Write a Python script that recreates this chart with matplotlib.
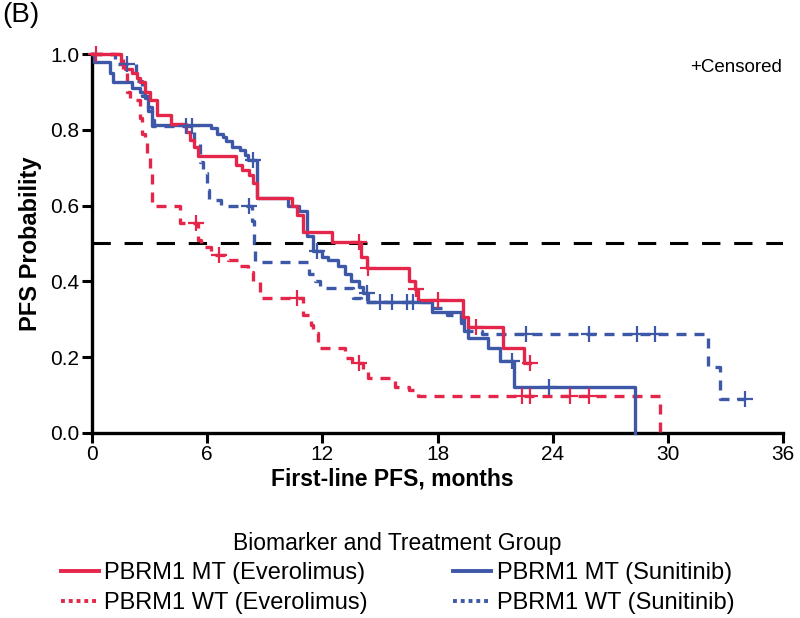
import numpy as np
import matplotlib
matplotlib.use("Agg")
import matplotlib.pyplot as plt
from matplotlib.lines import Line2D

plt.rcParams['font.family'] = ['Liberation Sans', 'DejaVu Sans']

RED = '#E5264B'
BLUE = '#3E58A8'

# ---------------- data (months, survival probability) ----------------
mt_eve_t = [0, 1.5, 1.7, 2.1, 2.35, 2.5, 2.75, 3.0, 3.4, 4.1, 4.9, 5.1, 5.3, 5.5,
            7.5, 7.8, 8.2, 8.4, 8.6, 10.4, 10.7, 11.0, 12.5, 14.0, 14.3, 16.5,
            16.8, 17.0, 19.3, 19.6, 21.4, 22.5]
mt_eve_s = [1.0, 0.975, 0.96, 0.95, 0.937, 0.926, 0.90, 0.88, 0.84, 0.815, 0.795,
            0.773, 0.755, 0.73, 0.707, 0.694, 0.68, 0.66, 0.62, 0.60, 0.575, 0.53,
            0.505, 0.465, 0.435, 0.40, 0.38, 0.35, 0.306, 0.28, 0.224, 0.185]
mt_eve_end = 22.8
mt_eve_cens = [0.2, 13.9, 14.4, 16.9, 18.0, 20.0, 22.8]

mt_sun_t = [0, 0.1, 0.95, 1.1, 2.1, 2.5, 2.75, 2.9, 3.1, 3.25, 6.2, 6.5, 6.8, 7.0,
            7.3, 7.7, 7.95, 8.1, 8.6, 10.2, 10.8, 11.2, 11.5, 12.0, 12.3, 12.8,
            13.2, 13.5, 13.9, 14.1, 14.4, 17.7, 19.2, 19.4, 19.6, 20.6, 21.25,
            22.0, 28.3]
mt_sun_s = [1.0, 0.98, 0.95, 0.926, 0.91, 0.90, 0.885, 0.86, 0.826, 0.813, 0.805,
            0.79, 0.78, 0.77, 0.755, 0.747, 0.733, 0.72, 0.62, 0.60, 0.585, 0.52,
            0.48, 0.465, 0.456, 0.44, 0.42, 0.40, 0.385, 0.37, 0.345, 0.32, 0.30,
            0.27, 0.25, 0.225, 0.19, 0.12, 0.0]
mt_sun_end = 28.3
mt_sun_cens = [8.4, 11.7, 14.3, 15.0, 16.7, 21.9, 23.8]

wt_eve_t = [0, 1.6, 1.8, 2.0, 2.5, 2.6, 2.75, 2.85, 3.0, 3.1, 3.15, 4.6, 5.5, 5.7,
            6.2, 7.1, 7.6, 8.1, 8.4, 8.75, 11.0, 11.4, 11.5, 11.75, 13.2, 13.55,
            14.1, 14.4, 15.8, 16.5, 17.0, 29.6]
wt_eve_s = [1.0, 0.95, 0.90, 0.88, 0.83, 0.79, 0.77, 0.74, 0.70, 0.67, 0.60, 0.555,
            0.51, 0.49, 0.47, 0.456, 0.44, 0.425, 0.40, 0.355, 0.31, 0.285, 0.264,
            0.225, 0.198, 0.185, 0.166, 0.145, 0.12, 0.113, 0.097, 0.0]
wt_eve_end = 29.6
wt_eve_cens = [5.4, 6.6, 10.7, 13.9, 22.4, 22.8, 24.9, 25.9]

wt_sun_t = [0, 1.2, 2.3, 2.6, 2.9, 3.1, 5.3, 5.6, 5.8, 6.0, 6.1, 6.7, 8.35, 8.45,
            8.5, 11.3, 11.6, 11.9, 13.6, 14.0, 17.6, 18.5, 19.2, 19.6, 20.3, 32.1,
            32.7]
wt_sun_s = [1.0, 0.975, 0.93, 0.89, 0.85, 0.81, 0.765, 0.715, 0.686, 0.64, 0.615,
            0.60, 0.56, 0.50, 0.45, 0.42, 0.40, 0.383, 0.356, 0.345, 0.33, 0.31,
            0.29, 0.27, 0.26, 0.175, 0.09]
wt_sun_end = 34.0
wt_sun_cens = [1.8, 4.9, 5.2, 8.2, 15.6, 16.4, 22.6, 25.9, 28.4, 29.3, 34.0]

x_ticks = [0, 6, 12, 18, 24, 30, 36]
y_ticks = [0.0, 0.2, 0.4, 0.6, 0.8, 1.0]
median_level = 0.5

legend_labels = ['PBRM1 MT (Everolimus)', 'PBRM1 WT (Everolimus)',
                 'PBRM1 MT (Sunitinib)', 'PBRM1 WT (Sunitinib)']

# ---------------- figure ----------------
fig = plt.figure(figsize=(8.0, 6.18), dpi=100)
ax = fig.add_axes([0.115, 0.2995, 0.864, 0.613])

DASH = (0, (3.0, 2.4))


def km(t, s, end, cens, color, ls):
    tt = list(t) + [end]
    ss = list(s) + [s[-1]]
    ax.step(tt, ss, where='post', color=color, lw=2.4, linestyle=ls,
            clip_on=False, zorder=3)
    cy = [s[np.searchsorted(t, c, side='right') - 1] for c in cens]
    ax.plot(cens, cy, linestyle='none', marker='+', markersize=11,
            markeredgewidth=1.6, color=color, clip_on=False, zorder=4)


ax.axhline(median_level, color='black', lw=2.2, linestyle=(0, (6.0, 4.5)),
           zorder=2)
km(wt_eve_t, wt_eve_s, wt_eve_end, wt_eve_cens, RED, DASH)
km(wt_sun_t, wt_sun_s, wt_sun_end, wt_sun_cens, BLUE, DASH)
km(mt_sun_t, mt_sun_s, mt_sun_end, mt_sun_cens, BLUE, '-')
km(mt_eve_t, mt_eve_s, mt_eve_end, mt_eve_cens, RED, '-')

ax.set_xlim(0, 36)
ax.set_ylim(0, 1.0)
ax.set_xticks(x_ticks)
ax.set_yticks(y_ticks)
ax.set_yticklabels([f'{v:.1f}' for v in y_ticks])
for side in ['top', 'right']:
    ax.spines[side].set_visible(False)
for side in ['left', 'bottom']:
    ax.spines[side].set_linewidth(2.4)
ax.tick_params(axis='both', direction='out', length=7, width=2.2,
               labelsize=15, pad=2)
ax.set_xlabel('First-line PFS, months', fontsize=16.5, fontweight='bold',
              va='top')
ax.xaxis.set_label_coords(0.434, -0.09)
ax.set_ylabel('PFS Probability', fontsize=17, fontweight='bold')
ax.yaxis.set_label_coords(-0.072, 0.5)

ax.text(0.998, 0.965, '+Censored', transform=ax.transAxes, ha='right',
        va='center', fontsize=13.5)
fig.text(0.003, 0.997, '(B)', ha='left', va='top', fontsize=20)

handles = [
    Line2D([], [], color=RED, lw=2.8, linestyle='-'),
    Line2D([], [], color=RED, lw=2.8, linestyle=(0, (1.0, 1.0))),
    Line2D([], [], color=BLUE, lw=2.8, linestyle='-'),
    Line2D([], [], color=BLUE, lw=2.8, linestyle=(0, (1.0, 1.0))),
]
leg = fig.legend(handles, legend_labels, ncol=2, loc='center',
                 bbox_to_anchor=(0.497, 0.073), frameon=False,
                 fontsize=17, title='Biomarker and Treatment Group',
                 title_fontsize=16.5, handlelength=1.6, handletextpad=0.25,
                 columnspacing=3.6, labelspacing=0.32, borderpad=0.0)

fig.savefig('out.png', dpi=100)
